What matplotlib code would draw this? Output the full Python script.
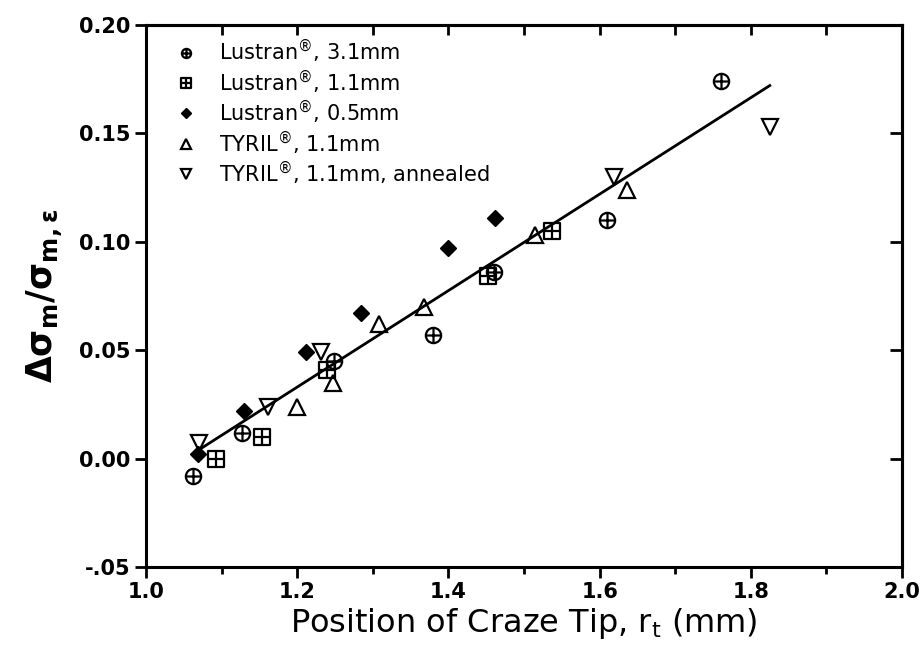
import matplotlib
matplotlib.use("Agg")
import matplotlib.pyplot as plt
import numpy as np
from matplotlib.path import Path

plt.rcParams['font.family'] = ['DejaVu Sans']

# craze tip position (mm) and normalised stress change for each material
lustran31_x = [1.062, 1.127, 1.249, 1.379, 1.460, 1.610, 1.760]
lustran31_y = [-0.008, 0.012, 0.045, 0.057, 0.086, 0.110, 0.174]

lustran11_x = [1.093, 1.154, 1.240, 1.452, 1.537]
lustran11_y = [0.000, 0.010, 0.041, 0.084, 0.105]

lustran05_x = [1.069, 1.130, 1.211, 1.284, 1.399, 1.461]
lustran05_y = [0.002, 0.022, 0.049, 0.067, 0.097, 0.111]

tyril_x = [1.200, 1.247, 1.308, 1.368, 1.514, 1.636]
tyril_y = [0.024, 0.035, 0.062, 0.070, 0.103, 0.124]

tyril_ann_x = [1.070, 1.161, 1.231, 1.619, 1.825]
tyril_ann_y = [0.007, 0.024, 0.049, 0.130, 0.153]

# linear fit through all points
fit_slope = 0.2225
fit_intercept = -0.234
fit_range = [1.07, 1.825]

series_labels = [r"Lustran$^{\circledR}$, 3.1mm",
                 r"Lustran$^{\circledR}$, 1.1mm",
                 r"Lustran$^{\circledR}$, 0.5mm",
                 r"TYRIL$^{\circledR}$, 1.1mm",
                 r"TYRIL$^{\circledR}$, 1.1mm, annealed"]

xticks = [1.0, 1.2, 1.4, 1.6, 1.8, 2.0]
xticklabels = ["1.0", "1.2", "1.4", "1.6", "1.8", "2.0"]
yticks = [-0.05, 0.0, 0.05, 0.10, 0.15, 0.20]
yticklabels = ["-.05", "0.00", "0.05", "0.10", "0.15", "0.20"]

# marker shapes: circle with a cross, square with a cross
cross = Path([[-1, 0], [1, 0], [0, -1], [0, 1]],
             [Path.MOVETO, Path.LINETO, Path.MOVETO, Path.LINETO])
circle_plus = Path.make_compound_path(Path.unit_circle(), cross)
square = Path([[-1, -1], [1, -1], [1, 1], [-1, 1], [-1, -1]],
              [Path.MOVETO, Path.LINETO, Path.LINETO, Path.LINETO, Path.CLOSEPOLY])
square_plus = Path.make_compound_path(square, cross)

fig = plt.figure(figsize=(9.22, 6.63), dpi=100)
ax = fig.add_axes([0.1584, 0.1448, 0.82, 0.8175])

mew = 1.6
ax.plot(lustran31_x, lustran31_y, ls='none', marker=circle_plus, ms=11,
        mfc='none', mec='black', mew=mew, label=series_labels[0])
ax.plot(lustran11_x, lustran11_y, ls='none', marker=square_plus, ms=11,
        mfc='none', mec='black', mew=mew, label=series_labels[1])
ax.plot(lustran05_x, lustran05_y, ls='none', marker='D', ms=8,
        mfc='black', mec='black', mew=1, label=series_labels[2])
ax.plot(tyril_x, tyril_y, ls='none', marker='^', ms=11,
        mfc='none', mec='black', mew=mew, label=series_labels[3])
ax.plot(tyril_ann_x, tyril_ann_y, ls='none', marker='v', ms=11,
        mfc='none', mec='black', mew=mew, label=series_labels[4])

fx = np.array(fit_range)
ax.plot(fx, fit_slope * fx + fit_intercept, color='black', lw=2)

ax.set_xlim(1.0, 2.0)
ax.set_ylim(-0.05, 0.20)

ax.set_xticks(xticks)
ax.set_xticklabels(xticklabels, fontweight='bold')
ax.set_xticks(np.arange(1.1, 2.0, 0.2), minor=True)
ax.set_yticks(yticks)
ax.set_yticklabels(yticklabels, fontweight='bold')

for s in ax.spines.values():
    s.set_linewidth(2.2)

ax.tick_params(which='major', direction='out', length=8, width=2,
               labelsize=15, pad=3)
ax.tick_params(which='minor', direction='out', length=5, width=2)
ax.tick_params(axis='y', which='minor', left=False)

# inward ticks on the top and right frame
top = ax.secondary_xaxis('top')
top.set_xticks(xticks)
top.set_xticks(np.arange(1.1, 2.0, 0.2), minor=True)
top.tick_params(which='both', direction='in', length=7, width=2, labeltop=False)
top.spines['top'].set_linewidth(2.2)
right = ax.secondary_yaxis('right')
right.set_yticks(yticks)
right.tick_params(which='both', direction='in', length=9, width=2, labelright=False)
right.spines['right'].set_linewidth(2.2)

ax.set_xlabel(r"Position of Craze Tip, r$_\mathrm{t}$ (mm)", fontsize=23, labelpad=3)
ax.set_ylabel(r"$\mathbf{\Delta\sigma_m/\sigma_{m,\epsilon}}$", fontsize=25, labelpad=10)

ax.legend(loc='upper left', frameon=False, fontsize=15, markerscale=0.6,
          handlelength=1.2, handletextpad=1.0, labelspacing=0.12,
          borderaxespad=0.2, bbox_to_anchor=(0.02, 1.0))

fig.savefig("out.png", dpi=100)
